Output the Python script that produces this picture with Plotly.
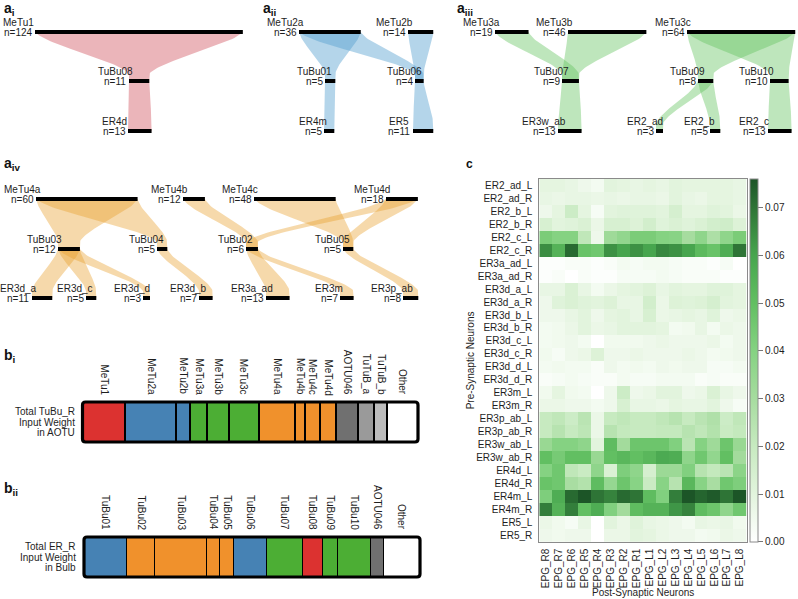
import numpy as np
import plotly.graph_objects as go

# ---------------- DATA ----------------
# Panel a: node names, neuron counts, links
ai_nodes = ["MeTu1", "TuBu08", "ER4d"]
ai_counts = [124, 11, 13]
ai_links = [("MeTu1", "TuBu08"), ("TuBu08", "ER4d")]

aii_nodes = ["MeTu2a", "MeTu2b", "TuBu01", "TuBu06", "ER4m", "ER5"]
aii_counts = [36, 14, 5, 4, 5, 11]
aii_links = [("MeTu2a", "TuBu01"), ("MeTu2a", "TuBu06"), ("MeTu2b", "TuBu06"),
             ("TuBu01", "ER4m"), ("TuBu06", "ER5")]

aiii_nodes = ["MeTu3a", "MeTu3b", "MeTu3c", "TuBu07", "TuBu09", "TuBu10",
              "ER3w_ab", "ER2_ad", "ER2_b", "ER2_c"]
aiii_counts = [19, 46, 64, 9, 8, 10, 13, 3, 5, 13]
aiii_links = [("MeTu3a", "TuBu07"), ("MeTu3b", "TuBu07"), ("MeTu3c", "TuBu09"),
              ("MeTu3c", "TuBu10"), ("TuBu07", "ER3w_ab"), ("TuBu09", "ER2_ad"),
              ("TuBu09", "ER2_b"), ("TuBu10", "ER2_c")]

aiv_nodes = ["MeTu4a", "MeTu4b", "MeTu4c", "MeTu4d", "TuBu03", "TuBu04", "TuBu02",
             "TuBu05", "ER3d_a", "ER3d_c", "ER3d_d", "ER3d_b", "ER3a_ad", "ER3m", "ER3p_ab"]
aiv_counts = [60, 12, 48, 18, 12, 5, 6, 5, 11, 5, 3, 7, 13, 7, 8]
aiv_links = [("MeTu4a", "TuBu03"), ("MeTu4a", "TuBu04"), ("MeTu4b", "TuBu02"),
             ("MeTu4c", "TuBu05"), ("MeTu4d", "TuBu02"), ("MeTu4d", "TuBu05"),
             ("TuBu03", "ER3d_a"), ("TuBu03", "ER3d_c"), ("TuBu03", "ER3d_d"),
             ("TuBu04", "ER3d_b"), ("TuBu02", "ER3a_ad"), ("TuBu02", "ER3m"),
             ("TuBu05", "ER3p_ab")]

# Panel b: input-weight fractions
bi_labels = ["MeTu1", "MeTu2a", "MeTu2b", "MeTu3a", "MeTu3b", "MeTu3c", "MeTu4a",
             "MeTu4b", "MeTu4c", "MeTu4d", "AOTU046", "TuTuB_a", "TuTuB_b", "Other"]
bi_weights = [0.129, 0.153, 0.042, 0.048, 0.066, 0.090, 0.108,
              0.030, 0.045, 0.048, 0.066, 0.048, 0.039, 0.090]

bii_labels = ["TuBu01", "TuBu02", "TuBu03", "TuBu04", "TuBu05", "TuBu06",
              "TuBu07", "TuBu08", "TuBu09", "TuBu10", "AOTU046", "Other"]
bii_weights = [0.128, 0.084, 0.155, 0.039, 0.042, 0.096,
               0.107, 0.060, 0.045, 0.099, 0.039, 0.107]

# Panel c: heatmap
post_neurons = ["EPG_R8", "EPG_R7", "EPG_R6", "EPG_R5", "EPG_R4", "EPG_R3", "EPG_R2", "EPG_R1",
                "EPG_L1", "EPG_L2", "EPG_L3", "EPG_L4", "EPG_L5", "EPG_L6", "EPG_L7", "EPG_L8"]
pre_neurons = ["ER2_ad_L", "ER2_ad_R", "ER2_b_L", "ER2_b_R", "ER2_c_L", "ER2_c_R",
               "ER3a_ad_L", "ER3a_ad_R", "ER3d_a_L", "ER3d_a_R", "ER3d_b_L", "ER3d_b_R",
               "ER3d_c_L", "ER3d_c_R", "ER3d_d_L", "ER3d_d_R", "ER3m_L", "ER3m_R",
               "ER3p_ab_L", "ER3p_ab_R", "ER3w_ab_L", "ER3w_ab_R", "ER4d_L", "ER4d_R",
               "ER4m_L", "ER4m_R", "ER5_L", "ER5_R"]
weights = [
    [0.009, 0.009, 0.008, 0.006, 0.004, 0.010, 0.009, 0.008, 0.009, 0.008, 0.010, 0.009, 0.009, 0.009, 0.009, 0.008],
    [0.008, 0.007, 0.008, 0.008, 0.007, 0.008, 0.007, 0.008, 0.008, 0.007, 0.010, 0.008, 0.007, 0.009, 0.009, 0.008],
    [0.006, 0.009, 0.018, 0.009, 0.003, 0.010, 0.011, 0.011, 0.011, 0.010, 0.015, 0.009, 0.009, 0.011, 0.010, 0.007],
    [0.014, 0.010, 0.011, 0.013, 0.007, 0.014, 0.014, 0.012, 0.016, 0.011, 0.013, 0.011, 0.013, 0.016, 0.017, 0.012],
    [0.043, 0.040, 0.040, 0.022, 0.006, 0.032, 0.036, 0.043, 0.043, 0.040, 0.039, 0.030, 0.037, 0.028, 0.037, 0.043],
    [0.065, 0.055, 0.072, 0.048, 0.046, 0.064, 0.060, 0.064, 0.060, 0.066, 0.064, 0.060, 0.052, 0.048, 0.057, 0.070],
    [0.001, 0.001, 0.002, 0.002, 0.001, 0.002, 0.004, 0.003, 0.004, 0.004, 0.003, 0.002, 0.002, 0.001, 0.003, 0.000],
    [0.001, 0.002, 0.000, 0.002, 0.001, 0.001, 0.003, 0.003, 0.003, 0.004, 0.003, 0.002, 0.002, 0.002, 0.001, 0.001],
    [0.008, 0.008, 0.013, 0.008, 0.004, 0.007, 0.009, 0.010, 0.012, 0.008, 0.010, 0.009, 0.009, 0.011, 0.011, 0.009],
    [0.006, 0.011, 0.013, 0.011, 0.010, 0.012, 0.008, 0.008, 0.016, 0.007, 0.012, 0.011, 0.012, 0.015, 0.010, 0.009],
    [0.006, 0.006, 0.008, 0.010, 0.006, 0.009, 0.010, 0.008, 0.014, 0.007, 0.008, 0.009, 0.008, 0.011, 0.006, 0.007],
    [0.004, 0.005, 0.007, 0.010, 0.007, 0.008, 0.010, 0.010, 0.010, 0.009, 0.004, 0.005, 0.008, 0.004, 0.007, 0.006],
    [0.004, 0.005, 0.006, 0.004, 0.000, 0.005, 0.005, 0.005, 0.006, 0.007, 0.006, 0.006, 0.006, 0.007, 0.004, 0.006],
    [0.005, 0.003, 0.006, 0.007, 0.012, 0.006, 0.006, 0.007, 0.006, 0.006, 0.006, 0.007, 0.006, 0.004, 0.005, 0.006],
    [0.004, 0.005, 0.004, 0.004, 0.002, 0.006, 0.004, 0.005, 0.004, 0.006, 0.005, 0.006, 0.006, 0.003, 0.003, 0.004],
    [0.002, 0.003, 0.004, 0.003, 0.002, 0.002, 0.004, 0.003, 0.003, 0.004, 0.004, 0.004, 0.002, 0.003, 0.002, 0.002],
    [0.005, 0.009, 0.005, 0.004, 0.000, 0.006, 0.018, 0.006, 0.007, 0.010, 0.010, 0.006, 0.007, 0.013, 0.008, 0.006],
    [0.007, 0.007, 0.006, 0.006, 0.004, 0.006, 0.014, 0.008, 0.008, 0.007, 0.009, 0.008, 0.008, 0.010, 0.006, 0.003],
    [0.020, 0.022, 0.018, 0.024, 0.007, 0.020, 0.022, 0.020, 0.020, 0.022, 0.025, 0.020, 0.024, 0.027, 0.018, 0.022],
    [0.020, 0.025, 0.020, 0.023, 0.007, 0.025, 0.021, 0.020, 0.020, 0.021, 0.021, 0.025, 0.022, 0.026, 0.019, 0.021],
    [0.034, 0.040, 0.040, 0.037, 0.010, 0.051, 0.031, 0.047, 0.047, 0.047, 0.041, 0.024, 0.040, 0.032, 0.047, 0.034],
    [0.050, 0.044, 0.050, 0.050, 0.034, 0.050, 0.053, 0.050, 0.053, 0.058, 0.057, 0.037, 0.046, 0.036, 0.050, 0.031],
    [0.040, 0.046, 0.022, 0.019, 0.037, 0.013, 0.042, 0.037, 0.015, 0.033, 0.033, 0.041, 0.025, 0.021, 0.024, 0.038],
    [0.048, 0.046, 0.029, 0.026, 0.051, 0.035, 0.047, 0.039, 0.019, 0.039, 0.025, 0.053, 0.039, 0.029, 0.046, 0.042],
    [0.042, 0.057, 0.072, 0.076, 0.070, 0.067, 0.072, 0.070, 0.051, 0.041, 0.068, 0.076, 0.073, 0.075, 0.070, 0.076],
    [0.068, 0.055, 0.068, 0.050, 0.057, 0.041, 0.031, 0.051, 0.055, 0.055, 0.063, 0.067, 0.051, 0.047, 0.037, 0.046],
    [0.007, 0.005, 0.003, 0.008, 0.000, 0.010, 0.007, 0.011, 0.008, 0.007, 0.006, 0.004, 0.008, 0.007, 0.008, 0.005],
    [0.006, 0.005, 0.006, 0.006, 0.000, 0.007, 0.007, 0.010, 0.009, 0.007, 0.006, 0.006, 0.004, 0.005, 0.007, 0.006],
]
colorbar_ticks = [0.00, 0.01, 0.02, 0.03, 0.04, 0.05, 0.06, 0.07]

# ---------------- LAYOUT / STYLE ----------------
W, H = 798, 599
FONT = "Liberation Sans, Arial, sans-serif"
TXT = "#1e1e1e"

def fx(px):
    return px / W

def fy(py):
    return 1 - py / H

# diagram placement: node -> (left edge px, row y px)
ROW_TOP = [32, 81, 131]
ROW_BOT = [199, 249, 298]
POS = {
    "MeTu1": (35, ROW_TOP[0]), "TuBu08": (129, ROW_TOP[1]), "ER4d": (128, ROW_TOP[2]),
    "MeTu2a": (299, ROW_TOP[0]), "MeTu2b": (408, ROW_TOP[0]), "TuBu01": (325, ROW_TOP[1]),
    "TuBu06": (415, ROW_TOP[1]), "ER4m": (324, ROW_TOP[2]), "ER5": (413, ROW_TOP[2]),
    "MeTu3a": (495, ROW_TOP[0]), "MeTu3b": (568, ROW_TOP[0]), "MeTu3c": (687, ROW_TOP[0]),
    "TuBu07": (562, ROW_TOP[1]), "TuBu09": (698, ROW_TOP[1]), "TuBu10": (770, ROW_TOP[1]),
    "ER3w_ab": (558, ROW_TOP[2]), "ER2_ad": (656, ROW_TOP[2]), "ER2_b": (710, ROW_TOP[2]),
    "ER2_c": (768, ROW_TOP[2]),
    "MeTu4a": (36, ROW_BOT[0]), "MeTu4b": (183, ROW_BOT[0]), "MeTu4c": (254, ROW_BOT[0]),
    "MeTu4d": (386, ROW_BOT[0]), "TuBu03": (58, ROW_BOT[1]), "TuBu04": (157, ROW_BOT[1]),
    "TuBu02": (246, ROW_BOT[1]), "TuBu05": (343, ROW_BOT[1]), "ER3d_a": (32, ROW_BOT[2]),
    "ER3d_c": (86, ROW_BOT[2]), "ER3d_d": (143, ROW_BOT[2]), "ER3d_b": (199, ROW_BOT[2]),
    "ER3a_ad": (266, ROW_BOT[2]), "ER3m": (340, ROW_BOT[2]), "ER3p_ab": (403, ROW_BOT[2]),
}
PX_PER_N = 1.66
CAP = 2.0
LABEL_GAP = 2.5

RIBBON = {
    "ai": "rgba(205,70,82,0.40)",
    "aii": "rgba(85,160,208,0.44)",
    "aiii": "rgba(100,195,95,0.42)",
    "aiv": "rgba(232,160,45,0.40)",
}

C_RED = "#dc3230"
C_BLUE = "#4682b4"
C_GREEN = "#4cae34"
C_ORANGE = "#f0912c"
bi_colors = [C_RED, C_BLUE, C_BLUE, C_GREEN, C_GREEN, C_GREEN, C_ORANGE, C_ORANGE,
             C_ORANGE, C_ORANGE, "#707070", "#9a9a9a", "#bcbcbc", "#ffffff"]
bii_colors = [C_BLUE, C_ORANGE, C_ORANGE, C_ORANGE, C_ORANGE, C_BLUE, C_GREEN, C_RED,
              C_GREEN, C_GREEN, "#707070", "#ffffff"]

# Arial / Liberation Sans advance widths (per 1000 em)
CW = {"M": 833, "e": 556, "T": 611, "u": 556, "B": 667, "E": 667, "R": 722, "n": 556,
      "=": 584, "_": 556, "a": 556, "b": 556, "c": 500, "d": 556, "m": 833, "w": 722, "p": 556}

def text_w(s, size=10):
    return sum(CW.get(ch, 556) for ch in s) * size / 1000.0

fig = go.Figure()
annotations = []
shapes = []

# ---------- panel a diagrams ----------
def extent(name, count):
    left, y = POS[name]
    return left, left + PX_PER_N * count + CAP, y

def edge_curve(xa, ya, xb, yb, n=50):
    t = np.linspace(0, 1, n)
    s = np.clip(t / 0.85, 0, 1)
    f = 0.4 * s + 0.6 * (3 * s ** 2 - 2 * s ** 3)
    return xa + (xb - xa) * f, ya + (yb - ya) * t

panels = [("ai", ai_nodes, ai_counts, ai_links), ("aii", aii_nodes, aii_counts, aii_links),
          ("aiii", aiii_nodes, aiii_counts, aiii_links), ("aiv", aiv_nodes, aiv_counts, aiv_links)]

bar_x, bar_y = [], []
for key, nodes, counts, links in panels:
    ext = {nm: extent(nm, c) for nm, c in zip(nodes, counts)}
    for src, dst in links:
        sl, sr, sy = ext[src]
        tl, tr, ty = ext[dst]
        lx, ly = edge_curve(sl, sy, tl, ty)
        rx, ry = edge_curve(sr, sy, tr, ty)
        xs = np.concatenate([lx, rx[::-1]])
        ys = np.concatenate([ly, ry[::-1]])
        fig.add_trace(go.Scatter(x=xs, y=ys, mode="lines", fill="toself",
                                 fillcolor=RIBBON[key], line=dict(width=0),
                                 hoverinfo="skip", xaxis="x", yaxis="y"))
    for nm, c in zip(nodes, counts):
        l, r, y = ext[nm]
        bar_x += [l, r, None]
        bar_y += [y, y, None]
        cnt = "n=%d" % c
        cx = l - LABEL_GAP - text_w(cnt) / 2
        annotations.append(dict(x=cx, y=y - 10, xref="x", yref="y", text=nm, showarrow=False,
                                xanchor="center", yanchor="middle",
                                font=dict(size=10, color=TXT, family=FONT)))
        annotations.append(dict(x=cx, y=y + 0.5, xref="x", yref="y", text=cnt, showarrow=False,
                                xanchor="center", yanchor="middle",
                                font=dict(size=10, color=TXT, family=FONT)))

fig.add_trace(go.Scatter(x=bar_x, y=bar_y, mode="lines", line=dict(color="#000000", width=4),
                         hoverinfo="skip", xaxis="x", yaxis="y"))

# ---------- panel b stacked bars ----------
B_PANELS = [
    ("x3", "y3", bi_labels, bi_weights, bi_colors, (82.5, 418.0), (402.0, 442.0),
     ["Total TuBu_R", "Input Weight", "in AOTU"]),
    ("x4", "y4", bii_labels, bii_weights, bii_colors, (84.0, 420.0), (537.0, 577.0),
     ["Total ER_R", "Input Weight", "in Bulb"]),
]
for xa, ya, labels, vals, cols, (xl, xr), (yt, yb), side in B_PANELS:
    cum = np.concatenate([[0], np.cumsum(vals)])
    for i, (lab, v, col) in enumerate(zip(labels, vals, cols)):
        fig.add_trace(go.Bar(x=[v], y=[0], orientation="h", width=1.0,
                             marker=dict(color=col, line=dict(color="#000000", width=1.3)),
                             hoverinfo="skip", xaxis=xa, yaxis=ya))
        annotations.append(dict(x=(cum[i] + cum[i + 1]) / 2, y=fy(yt - 5), xref=xa, yref="paper",
                                text=lab, textangle=90, showarrow=False,
                                xanchor="center", yanchor="bottom",
                                font=dict(size=10, color=TXT, family=FONT)))
    yc = (yt + yb) / 2
    for k, line in enumerate(side):
        annotations.append(dict(x=fx(xl - 6), y=fy(yc + (k - 1) * 10.5), xref="paper", yref="paper",
                                text=line, showarrow=False, xanchor="right", yanchor="middle",
                                font=dict(size=10, color=TXT, family=FONT)))
    # rounded outer border
    r = 3.0
    x0, x1, y0, y1 = xl, xr, yt, yb
    path = ("M %f,%f L %f,%f Q %f,%f %f,%f L %f,%f Q %f,%f %f,%f L %f,%f Q %f,%f %f,%f "
            "L %f,%f Q %f,%f %f,%f Z") % (
        fx(x0 + r), fy(y0), fx(x1 - r), fy(y0), fx(x1), fy(y0), fx(x1), fy(y0 + r),
        fx(x1), fy(y1 - r), fx(x1), fy(y1), fx(x1 - r), fy(y1),
        fx(x0 + r), fy(y1), fx(x0), fy(y1), fx(x0), fy(y1 - r),
        fx(x0), fy(y0 + r), fx(x0), fy(y0), fx(x0 + r), fy(y0))
    shapes.append(dict(type="path", path=path, xref="paper", yref="paper",
                       line=dict(color="#000000", width=3.2), layer="above"))

# ---------- panel c heatmap ----------
ZMAX = 0.076
cs_pts = [(0.0, "#ffffff"), (0.01, "#e2f4dd"), (0.02, "#c7eac0"), (0.03, "#a6dc9f"),
          (0.04, "#85d282"), (0.05, "#62bf62"), (0.06, "#47a54e"), (0.07, "#2e7436"),
          (0.076, "#1c5527")]
colorscale = [[v / ZMAX, c] for v, c in cs_pts]

HM_L, HM_R, HM_T, HM_B = 539.3, 746.7, 179.0, 541.7
fig.add_trace(go.Heatmap(
    z=weights, x=post_neurons, y=pre_neurons, zmin=0, zmax=ZMAX, colorscale=colorscale,
    xaxis="x2", yaxis="y2", hoverinfo="skip",
    colorbar=dict(thickness=8, x=fx(749.5), xanchor="left", xpad=0,
                  y=fy((HM_T + HM_B) / 2), yanchor="middle", len=(HM_B - HM_T) / H,
                  lenmode="fraction", ypad=0, outlinecolor="#8a8a8a", outlinewidth=1,
                  tickvals=colorbar_ticks, ticktext=["%.2f" % v for v in colorbar_ticks],
                  ticks="outside", ticklen=5, tickwidth=1, tickcolor="#777777",
                  tickfont=dict(size=10, color=TXT, family=FONT))))

# panel titles
def ptitle(x, y, letter, sub):
    annotations.append(dict(x=fx(x), y=fy(y), xref="paper", yref="paper", xanchor="left",
                            yanchor="middle", showarrow=False,
                            text="<b>%s</b><sub><b>%s</b></sub>" % (letter, sub) if sub else "<b>%s</b>" % letter,
                            font=dict(size=14, color="#111111", family=FONT)))

ptitle(2, 9, "a", "i")
ptitle(261, 9, "a", "ii")
ptitle(455, 9, "a", "iii")
ptitle(2, 164, "a", "iv")
ptitle(2, 356, "b", "i")
ptitle(2, 489, "b", "ii")
annotations.append(dict(x=fx(464), y=fy(164), xref="paper", yref="paper", xanchor="left",
                        yanchor="middle", showarrow=False, text="<b>c</b>",
                        font=dict(size=12, color="#111111", family=FONT)))

annotations.append(dict(x=fx(470), y=fy((HM_T + HM_B) / 2), xref="paper", yref="paper",
                        text="Pre-Synaptic Neurons", textangle=-90, showarrow=False,
                        xanchor="center", yanchor="middle",
                        font=dict(size=10, color=TXT, family=FONT)))
annotations.append(dict(x=fx((HM_L + HM_R) / 2), y=fy(592.5), xref="paper", yref="paper",
                        text="Post-Synaptic Neurons", showarrow=False,
                        xanchor="center", yanchor="middle",
                        font=dict(size=10, color=TXT, family=FONT)))

hidden = dict(visible=False, showgrid=False, zeroline=False, fixedrange=True)
fig.update_layout(
    width=W, height=H, margin=dict(l=0, r=0, t=0, b=0),
    paper_bgcolor="#ffffff", plot_bgcolor="rgba(0,0,0,0)", showlegend=False,
    barmode="stack", bargap=0,
    font=dict(family=FONT, size=10, color=TXT),
    xaxis=dict(domain=[0, 1], range=[0, W], **hidden),
    yaxis=dict(domain=[0, 1], range=[H, 0], anchor="x", **hidden),
    xaxis2=dict(domain=[fx(HM_L), fx(HM_R)], anchor="y2", type="category",
                tickangle=-90, ticks="outside", ticklen=2, tickcolor="rgba(0,0,0,0)",
                tickfont=dict(size=10, color=TXT, family=FONT),
                showline=True, mirror=True, linecolor="#8a8a8a", linewidth=1,
                showgrid=False, zeroline=False, fixedrange=True),
    yaxis2=dict(domain=[fy(HM_B), fy(HM_T)], anchor="x2", type="category",
                autorange="reversed", ticks="outside", ticklen=4, tickcolor="rgba(0,0,0,0)",
                tickfont=dict(size=10, color=TXT, family=FONT),
                showline=True, mirror=True, linecolor="#8a8a8a", linewidth=1,
                showgrid=False, zeroline=False, fixedrange=True),
    xaxis3=dict(domain=[fx(82.5), fx(418.0)], anchor="y3", range=[0, sum(bi_weights)], **hidden),
    yaxis3=dict(domain=[fy(442.0), fy(402.0)], anchor="x3", range=[-0.5, 0.5], **hidden),
    xaxis4=dict(domain=[fx(84.0), fx(420.0)], anchor="y4", range=[0, sum(bii_weights)], **hidden),
    yaxis4=dict(domain=[fy(577.0), fy(537.0)], anchor="x4", range=[-0.5, 0.5], **hidden),
    annotations=annotations, shapes=shapes,
)

fig.write_html("out.html", config={"displayModeBar": False},
               post_script="document.body.style.margin='0';document.body.style.overflow='hidden';")
